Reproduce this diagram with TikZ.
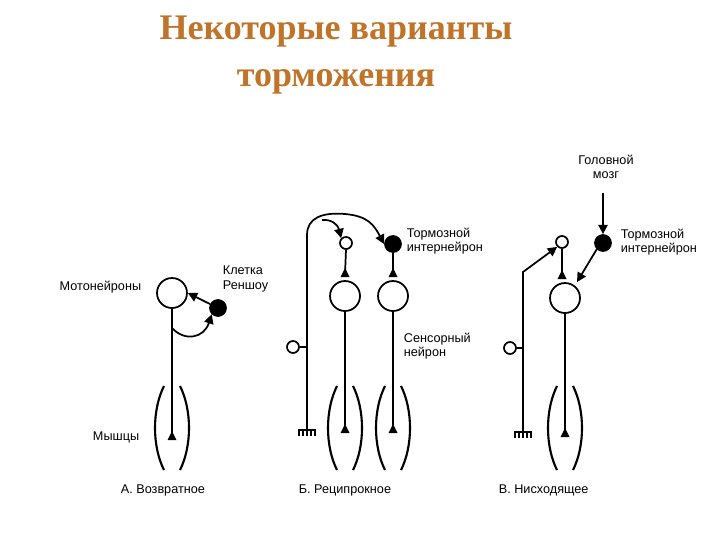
\documentclass[tikz,border=0pt]{standalone}
\usepackage{fontspec}
\setmainfont{Liberation Serif}
\setsansfont{Liberation Sans}
\usetikzlibrary{arrows.meta}
\begin{document}
\begin{tikzpicture}[x=0.75pt,y=-0.75pt,line width=1.3pt,
  big/.style={circle,draw,minimum size=22.5pt,inner sep=0pt},
  sm/.style={circle,draw,minimum size=9pt,inner sep=0pt},
  blk/.style={circle,draw,fill=black,minimum size=12pt,inner sep=0pt},
  lab/.style={font=\sffamily\fontsize{9.5}{11}\selectfont,align=left,inner sep=0pt},
  tri/.style={-{Triangle[width=7pt,length=7pt]}},
  ttl/.style={font=\bfseries\fontsize{27}{34}\selectfont,text=titlec}]
\definecolor{titlec}{HTML}{C0742A}
\useasboundingbox (0,0) rectangle (720,540);
\node[ttl] (t1) at (336,32) {Некоторые варианты};
\node[ttl] (t2) at (336,82) {торможения};
\newcommand{\musc}[1]{%
 \draw[line width=1.6pt] (#1-8,386) .. controls (#1-20,410) and (#1-20,446) .. (#1-8,470);
 \draw[line width=1.6pt] (#1+8,386) .. controls (#1+20,410) and (#1+20,446) .. (#1+8,470);}
\newcommand{\comb}[2]{%
 \draw[line width=1.2pt] (#1-9,#2) -- (#1+9,#2);
 \foreach \k in {-8,-4,0,4,8} \draw[line width=1pt] (#1+\k,#2) -- (#1+\k,#2+6);}
\newcommand{\up}[1]{\fill (#1) +(-4.5,3) -- +(4.5,3) -- +(0,-6) -- cycle;}
% ---------- A
\node[big] (ma) at (172,293) {};
\node[blk] (ra) at (218,308) {};
\coordinate (ta) at (172,437);
\draw (ma.south) -- (ta); \up{ta}
\draw[tri] (ra) -- (ma.east);
\draw[tri] (172,328) .. controls (185,342) and (204,338) .. (ra.south west);
\musc{172}
\node[lab,anchor=east] (la1) at (142,287) {Мотонейроны};
\node[lab,anchor=west] (la2) at (222,279) {Клетка\\Реншоу};
\node[lab,anchor=east] (la3) at (140,437) {Мышцы};
\node[lab,anchor=west] (la4) at (120,490) {А. Возвратное};
% ---------- B
\node[big] (b1) at (345,296) {};
\node[big] (b2) at (393,296) {};
\node[sm] (s1) at (346,243) {};
\node[blk] (k1) at (393,244) {};
\coordinate (u1) at (345,274); \coordinate (u2) at (393,274);
\draw (s1.south) -- (u1); \up{u1}
\draw (k1.south) -- (u2); \up{u2}
\coordinate (a1) at (345,430); \coordinate (a2) at (393,430);
\draw (b1.south) -- (a1); \up{a1}
\draw (b2.south) -- (a2); \up{a2}
\musc{345}\musc{393}
\node[sm] (sb) at (293,347) {};
\draw (sb.east) -- (307,347);
\draw[tri] (307,430) -- (307,235) .. controls (307,218) and (322,212) .. (345,214) .. controls (368,216) and (374,225) .. (k1.west);
\draw[tri] (322,220) .. controls (332,219) and (338,225) .. (s1.north west);
\comb{307}{430}
\node[lab,anchor=west] (lb1) at (406,241) {Тормозной\\интернейрон};
\node[lab,anchor=west] (lb2) at (403,346) {Сенсорный\\нейрон};
\node[lab,anchor=west] (lb3) at (298,490) {Б. Реципрокное};
% ---------- C
\node[big] (c1) at (565,298) {};
\node[sm] (sc) at (562,242) {};
\node[blk] (kc) at (603,243) {};
\coordinate (uc) at (562,276);
\draw (sc.south) -- (uc); \up{uc}
\draw[tri] (kc.south west) -- (577,282);
\draw[tri] (603,193) -- (kc.north);
\coordinate (ac) at (565,434);
\draw (c1.south) -- (ac); \up{ac}
\musc{565}
\node[sm] (sc2) at (510,348) {};
\draw (sc2.east) -- (523,348);
\draw[tri] (523,432) -- (523,272) -- (sc.south west);
\comb{523}{432}
\node[lab,align=center] (lc1) at (606,167) {Головной\\мозг};
\node[lab,anchor=west] (lc2) at (620,242) {Тормозной\\интернейрон};
\node[lab,anchor=west] (lc3) at (498,490) {В. Нисходящее};
\end{tikzpicture}
\end{document}
